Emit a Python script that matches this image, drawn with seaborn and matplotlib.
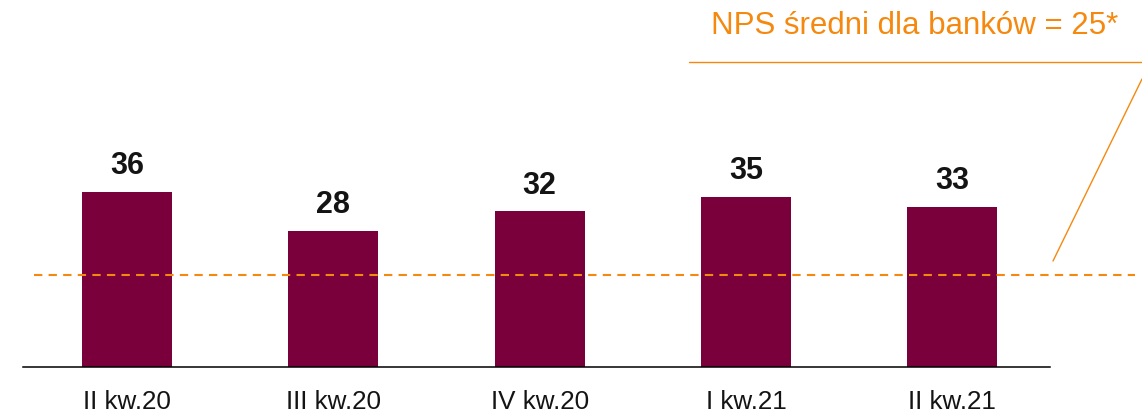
import matplotlib
matplotlib.use("Agg")
import matplotlib.pyplot as plt
import matplotlib.transforms as mtransforms
from matplotlib.lines import Line2D
import seaborn as sns
import pandas as pd

# ---- data ----
categories = ["II kw.20", "III kw.20", "IV kw.20", "I kw.21", "II kw.21"]
nps_values = [36, 28, 32, 35, 33]
benchmark_label = "NPS średni dla banków = 25*"

# ---- style ----
BAR_COLOR = "#7A003C"
ORANGE = "#F5890F"
TEXT_DARK = "#141414"
AVG_LINE_LEVEL = 19.0  # drawn height of the dashed reference line

sns.set_theme(style="white")
plt.rcParams["font.family"] = ["Liberation Sans", "DejaVu Sans"]

W, H = 1142, 414
fig = plt.figure(figsize=(W / 100, H / 100), dpi=100)
ax = fig.add_axes([23 / W, 46 / H, (1050 - 23) / W, (H - 46) / H])

df = pd.DataFrame({"kw": categories, "nps": nps_values})
sns.barplot(data=df, x="kw", y="nps", color=BAR_COLOR, saturation=1,
            width=0.436, ax=ax, edgecolor="none")

ax.set_xlim(-0.504, 4.474)
ax.set_ylim(0, 75.7)

for spine in ["top", "right", "left"]:
    ax.spines[spine].set_visible(False)
ax.spines["bottom"].set_color("#000000")
ax.spines["bottom"].set_linewidth(1.1)
ax.set_yticks([])
ax.set_xlabel("")
ax.set_ylabel("")
ax.tick_params(axis="x", length=0, pad=16, labelsize=18.7, labelcolor=TEXT_DARK)

# value labels
for patch, val in zip(ax.patches, nps_values):
    ax.annotate(f"{val}", xy=(patch.get_x() + patch.get_width() / 2, patch.get_height()),
                xytext=(0, 13.5), textcoords="offset points",
                ha="center", va="baseline", fontsize=22, fontweight="bold",
                color=TEXT_DARK)

# dashed reference line (extends beyond axes)
trans = mtransforms.blended_transform_factory(fig.transFigure, ax.transData)
ax.plot([34 / W, 1135 / W], [AVG_LINE_LEVEL, AVG_LINE_LEVEL], transform=trans,
        color=ORANGE, lw=1.5, ls=(0, (4, 3)), clip_on=False, zorder=5)

# benchmark callout
fig.text(915 / W, (H - 34) / H, benchmark_label, ha="center", va="baseline",
         fontsize=22.5, color=ORANGE)
fig.add_artist(Line2D([689 / W, 1.0], [(H - 63) / H, (H - 63) / H],
                      transform=fig.transFigure, color=ORANGE, lw=1.0))
fig.add_artist(Line2D([1142 / W, 1053 / W], [(H - 80) / H, (H - 262) / H],
                      transform=fig.transFigure, color=ORANGE, lw=1.0))

fig.savefig("out.png", dpi=100)
